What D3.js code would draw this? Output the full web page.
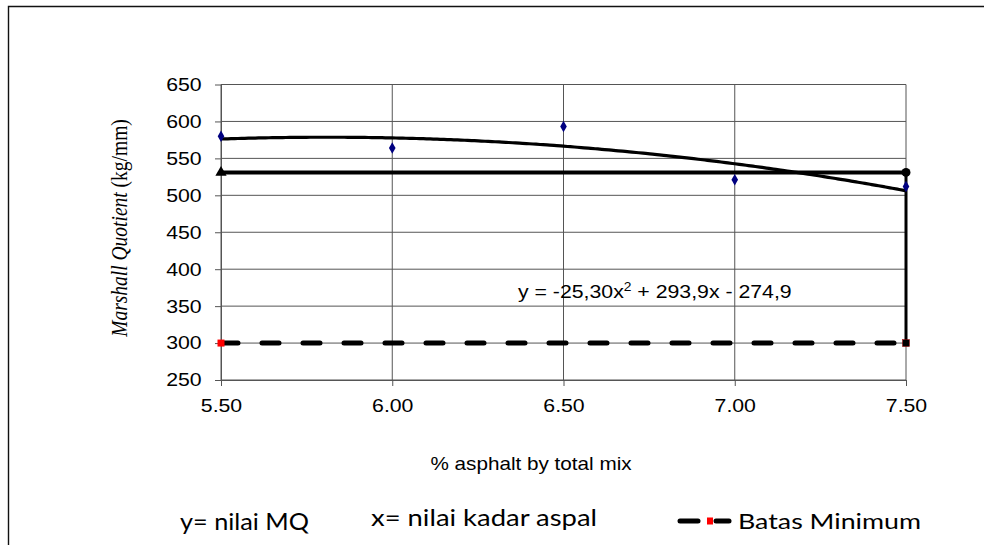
<!DOCTYPE html>
<html>
<head>
<meta charset="utf-8">
<script src="https://cdn.jsdelivr.net/npm/d3@7"></script>
<style>
  body { margin: 0; background: #fff; }
  svg { display: block; }
</style>
</head>
<body>
<svg id="chart" width="984" height="545"></svg>
<script>
// Marshall Quotient vs asphalt content
const asphaltContent = [5.5, 6.0, 6.5, 7.0, 7.5];
const mqValues = [580, 564, 593, 521, 512];
// quadratic trend: y = a x^2 + b x + c
const trendCoef = { a: -25.30, b: 293.9, c: -274.9 };
const minimumMQ = 300;
const selectedMQ = 531;
const xTickValues = [5.5, 6.0, 6.5, 7.0, 7.5];
const yTickValues = [250, 300, 350, 400, 450, 500, 550, 600, 650];

const svg = d3.select("#chart");
const STRETCH = 1.15;               // glyphs drawn slightly wide
const sans = "'Liberation Sans', Arial, sans-serif";
const serif = "'Liberation Serif', 'Times New Roman', serif";
const legendFont = "Lato, 'Open Sans', sans-serif";

const plot = { left: 221, right: 906, top: 84.5, bottom: 380 };

const x = d3.scaleLinear().domain([5.5, 7.5]).range([plot.left, plot.right]);
const y = d3.scaleLinear().domain([250, 650]).range([plot.bottom, plot.top]);

// outer frame (left and top edges)
svg.append("path")
  .attr("d", "M8.5,545 V6.5 H984")
  .attr("fill", "none").attr("stroke", "#111").attr("stroke-width", 1.4);

// grid
const grid = svg.append("g").attr("stroke", "#555").attr("stroke-width", 1);
grid.selectAll("line.h").data(yTickValues).join("line")
  .attr("x1", plot.left).attr("x2", plot.right)
  .attr("y1", d => y(d)).attr("y2", d => y(d));
grid.selectAll("line.v").data(xTickValues).join("line")
  .attr("y1", plot.top).attr("y2", plot.bottom)
  .attr("x1", d => x(d)).attr("x2", d => x(d));

// axes
const yAxis = svg.append("g")
  .attr("transform", `translate(${plot.left},0)`)
  .call(d3.axisLeft(y).tickValues(yTickValues).tickSize(6).tickSizeOuter(0).tickFormat(d3.format("d")));
const xAxis = svg.append("g")
  .attr("transform", `translate(0,${plot.bottom})`)
  .call(d3.axisBottom(x).tickValues(xTickValues).tickSize(6).tickSizeOuter(0).tickFormat(d3.format(".2f")));

[yAxis, xAxis].forEach(ax => {
  ax.select(".domain").attr("stroke", "#555");
  ax.selectAll(".tick line").attr("stroke", "#555");
  ax.selectAll("text").attr("font-family", sans).attr("font-size", 18.5).attr("fill", "#000");
});
yAxis.selectAll("text").attr("x", -19.3 / STRETCH).attr("transform", `scale(${STRETCH},1)`);
xAxis.selectAll("text").attr("y", 32).attr("dy", 0).attr("transform", `scale(${STRETCH},1)`);

// minimum line (dashed)
svg.append("line")
  .attr("x1", x(5.5)).attr("x2", x(7.5))
  .attr("y1", y(minimumMQ)).attr("y2", y(minimumMQ))
  .attr("stroke", "#000").attr("stroke-width", 5)
  .attr("stroke-linecap", "round").attr("stroke-dasharray", "17,24");

// selected level line and drop to the minimum
svg.append("line")
  .attr("x1", x(5.5)).attr("x2", x(7.5))
  .attr("y1", y(selectedMQ)).attr("y2", y(selectedMQ))
  .attr("stroke", "#000").attr("stroke-width", 4);
svg.append("line")
  .attr("x1", x(7.5)).attr("x2", x(7.5))
  .attr("y1", y(selectedMQ)).attr("y2", y(minimumMQ))
  .attr("stroke", "#000").attr("stroke-width", 3);

// trend curve from the regression equation
const trend = v => trendCoef.a * v * v + trendCoef.b * v + trendCoef.c;
const trendX = d3.range(5.5, 7.5001, 0.02);
svg.append("path")
  .datum(trendX)
  .attr("d", d3.line().x(d => x(d)).y(d => y(trend(d))).curve(d3.curveMonotoneX))
  .attr("fill", "none").attr("stroke", "#000").attr("stroke-width", 3.2);

// data points
svg.selectAll("path.pt").data(asphaltContent).join("path")
  .attr("transform", (d, i) => `translate(${x(d)},${y(mqValues[i])})`)
  .attr("d", d3.symbol().type(d3.symbolDiamond).size(38))
  .attr("fill", "#000080");

// end markers
svg.append("path")
  .attr("transform", `translate(${x(5.5)},${y(selectedMQ)})`)
  .attr("d", d3.symbol().type(d3.symbolTriangle).size(55))
  .attr("fill", "#000");
svg.append("circle")
  .attr("cx", x(7.5)).attr("cy", y(selectedMQ)).attr("r", 4.5).attr("fill", "#000");
svg.append("rect")
  .attr("x", x(7.5) - 3.5).attr("y", y(minimumMQ) - 3.5).attr("width", 7).attr("height", 7)
  .attr("fill", "#000").attr("stroke", "#a00").attr("stroke-width", 0.5);
svg.append("rect")
  .attr("x", x(5.5) - 3.5).attr("y", y(minimumMQ) - 3.5).attr("width", 7).attr("height", 7)
  .attr("fill", "#ff0000");

// equation label
const eq = svg.append("text")
  .attr("transform", `translate(518,298) scale(${STRETCH},1)`)
  .attr("font-family", sans).attr("font-size", 18.5).attr("fill", "#000");
eq.append("tspan").text("y = -25,30x");
eq.append("tspan").attr("font-size", 12).attr("dy", -7).text("2");
eq.append("tspan").attr("dy", 7).text(" + 293,9x - 274,9");

// y axis title
const yt = svg.append("text")
  .attr("transform", `translate(127,228) scale(${STRETCH},1) rotate(-90)`)
  .attr("text-anchor", "middle")
  .attr("font-family", serif).attr("font-size", 19.5).attr("fill", "#000");
yt.append("tspan").attr("font-style", "italic").text("Marshall Quotient ");
yt.append("tspan").text("(kg/mm)");

// x axis title
svg.append("text")
  .attr("transform", `translate(531,470) scale(${STRETCH},1)`)
  .attr("text-anchor", "middle")
  .attr("font-family", sans).attr("font-size", 18).attr("fill", "#000")
  .text("% asphalt by total mix");

// notes and legend along the bottom
svg.append("text")
  .attr("x", 180).attr("y", 530)
  .attr("font-family", legendFont).attr("font-size", 23).attr("fill", "#000")
  .attr("textLength", 129).attr("lengthAdjust", "spacingAndGlyphs")
  .text("y= nilai MQ");
svg.append("text")
  .attr("x", 371).attr("y", 526)
  .attr("font-family", legendFont).attr("font-size", 23).attr("fill", "#000")
  .attr("textLength", 226).attr("lengthAdjust", "spacingAndGlyphs")
  .text("x= nilai kadar aspal");

const lg = svg.append("g");
lg.append("line").attr("x1", 680).attr("x2", 698).attr("y1", 521).attr("y2", 521)
  .attr("stroke", "#000").attr("stroke-width", 5).attr("stroke-linecap", "round");
lg.append("line").attr("x1", 716).attr("x2", 729).attr("y1", 521).attr("y2", 521)
  .attr("stroke", "#000").attr("stroke-width", 5).attr("stroke-linecap", "round");
lg.append("rect").attr("x", 707).attr("y", 517.5).attr("width", 6).attr("height", 7).attr("fill", "#ff0000");
lg.append("text")
  .attr("x", 738).attr("y", 529)
  .attr("font-family", legendFont).attr("font-size", 22).attr("fill", "#000")
  .attr("textLength", 183).attr("lengthAdjust", "spacingAndGlyphs")
  .text("Batas Minimum");
</script>
</body>
</html>
